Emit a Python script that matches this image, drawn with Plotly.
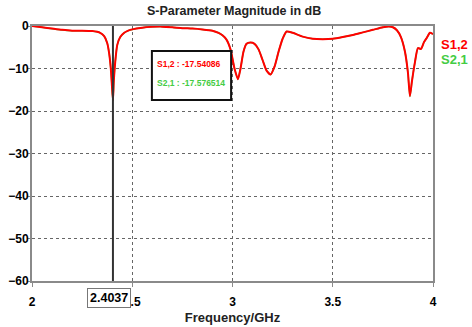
import plotly.graph_objects as go

freq = [2.00, 2.05, 2.10, 2.15, 2.20, 2.25, 2.30, 2.34, 2.36, 2.375, 2.385, 2.393, 2.398, 2.4037,
        2.408, 2.415, 2.425, 2.44, 2.46, 2.48, 2.50, 2.55, 2.60, 2.65, 2.70, 2.75, 2.80, 2.85,
        2.90, 2.93, 2.95, 2.97, 2.99, 3.01, 3.027, 3.04, 3.055, 3.07, 3.09, 3.11, 3.13, 3.15,
        3.17, 3.19, 3.21, 3.23, 3.25, 3.27, 3.30, 3.35, 3.40, 3.45, 3.50, 3.55, 3.60, 3.65,
        3.70, 3.75, 3.78, 3.80, 3.82, 3.84, 3.86, 3.875, 3.885, 3.895, 3.91, 3.925, 3.94,
        3.955, 3.97, 3.985, 4.00]

s12 = [0, -0.3, -0.6, -0.9, -1.1, -1.1, -1.2, -1.6, -2.4, -4.0, -6.5, -10, -13.5, -17.54,
       -13, -8.5, -4.5, -2.6, -1.6, -1.1, -0.8, -0.4, -0.2, -0.15, -0.3, -0.5, -0.6, -0.8,
       -1.1, -1.6, -2.2, -3.2, -5.5, -10, -12.5, -10, -6, -4.2, -3.9, -4.2, -5.5, -8,
       -10.5, -11.4, -9.5, -6, -3, -1.3, -1.6, -2.5, -3.0, -3.1, -3.0, -2.6, -2.1, -1.5,
       -0.9, -0.3, -0.1, -0.3, -1.0, -2.6, -6, -11, -16.5, -13, -8.5, -5.2, -5.4,
       -3.8, -2.7, -1.6, -1.9]

s21 = [0, -0.3, -0.65, -0.95, -1.1, -1.1, -1.2, -1.6, -2.4, -4.0, -6.5, -10, -13.5, -17.58,
       -13, -8.5, -4.5, -2.6, -1.6, -1.1, -0.8, -0.4, -0.2, -0.15, -0.3, -0.5, -0.6, -0.8,
       -1.1, -1.6, -2.2, -3.2, -5.5, -10, -12.5, -10, -6, -4.2, -3.9, -4.2, -5.5, -8,
       -10.5, -11.4, -9.5, -6, -3, -1.3, -1.6, -2.5, -3.0, -3.1, -3.0, -2.6, -2.1, -1.5,
       -0.9, -0.3, -0.1, -0.3, -1.0, -2.6, -6, -11, -16.6, -13, -8.5, -5.2, -5.4,
       -3.8, -2.7, -1.6, -1.9]

marker_freq = 2.4037
marker_label = "2.4037"
marker_s12 = "S1,2 : -17.54086"
marker_s21 = "S2,1 : -17.576514"

xticks = [2, 2.5, 3, 3.5, 4]
xtick_text = ["2", "2.5", "3", "3.5", "4"]
yticks = [0, -10, -20, -30, -40, -50, -60]

RED = "#ff0000"
GREEN = "#44cc44"
FONT = "Arial, Liberation Sans, sans-serif"

fig = go.Figure()
fig.add_trace(go.Scatter(x=freq, y=s21, mode="lines", line=dict(color=GREEN, width=1.5,
                                                                 shape="spline", smoothing=0.6),
                         name="S2,1", showlegend=False))
fig.add_trace(go.Scatter(x=freq, y=s12, mode="lines", line=dict(color=RED, width=2,
                                                               shape="spline", smoothing=0.6),
                         name="S1,2", showlegend=False))

# marker line
fig.add_shape(type="line", x0=marker_freq, x1=marker_freq, y0=-60, y1=0,
              line=dict(color="#333333", width=2), layer="above")
# marker box
fig.add_shape(type="rect", x0=2.598, x1=2.993, y0=-17.4, y1=-5.9,
              fillcolor="white", line=dict(color="#111111", width=2), layer="above")
fig.add_annotation(x=2.613, y=-9.0, xref="x", yref="y", text=marker_s12, showarrow=False,
                   xanchor="left", font=dict(family=FONT, size=8.5, color=RED, weight="bold"))
fig.add_annotation(x=2.613, y=-13.4, xref="x", yref="y", text=marker_s21, showarrow=False,
                   xanchor="left", font=dict(family=FONT, size=8.5, color=GREEN, weight="bold"))

# marker x label
fig.add_annotation(x=marker_freq, y=0, xref="x", yref="paper", yshift=-17, xshift=-4,
                   yanchor="middle",
                   text=marker_label, showarrow=False, bgcolor="white",
                   bordercolor="#777777", borderwidth=1, borderpad=2,
                   font=dict(family=FONT, size=12.5, color="black", weight="bold"))

# legend texts
fig.add_annotation(x=1.016, y=0.929, xref="paper", yref="paper", text="S1,2", showarrow=False,
                   xanchor="left", yanchor="middle",
                   font=dict(family=FONT, size=13, color=RED, weight="bold"))
fig.add_annotation(x=1.016, y=0.867, xref="paper", yref="paper", text="S2,1", showarrow=False,
                   xanchor="left", yanchor="middle",
                   font=dict(family=FONT, size=13, color=GREEN, weight="bold"))

fig.update_layout(
    width=472, height=327,
    margin=dict(l=32, r=39, t=26, b=46, autoexpand=False),
    paper_bgcolor="white", plot_bgcolor="white",
    title=dict(text="S-Parameter Magnitude in dB", x=0.496, xanchor="center", y=0.969,
               yanchor="middle", font=dict(family=FONT, size=12.5, color="#222", weight="bold")),
    font=dict(family=FONT, color="black"),
    xaxis=dict(range=[2, 4], tickvals=xticks, ticktext=xtick_text, showgrid=True,
               gridcolor="#666666", griddash="dot", gridwidth=1, automargin=False,
               showline=True, linecolor="#8a8a8a", linewidth=2, mirror=True,
               ticks="outside", ticklen=4, tickcolor="#8a8a8a", zeroline=False,
               ticklabelstandoff=5,
               tickfont=dict(family=FONT, size=12, color="black", weight="bold"),
               title=dict(text="Frequency/GHz", standoff=4,
                          font=dict(family=FONT, size=13, color="#222", weight="bold"))),
    yaxis=dict(range=[-60, 0], tickvals=yticks, showgrid=True,
               gridcolor="#666666", griddash="dot", gridwidth=1, automargin=False,
               showline=True, linecolor="#8a8a8a", linewidth=2, mirror=True,
               ticks="outside", ticklen=3, tickcolor="#8a8a8a", zeroline=False,
               ticklabelstandoff=-4,
               tickfont=dict(family=FONT, size=12, color="black", weight="bold")),
)

fig.write_html("out.html", config={"displayModeBar": False, "staticPlot": True},
               post_script="document.body.style.margin='0';")
